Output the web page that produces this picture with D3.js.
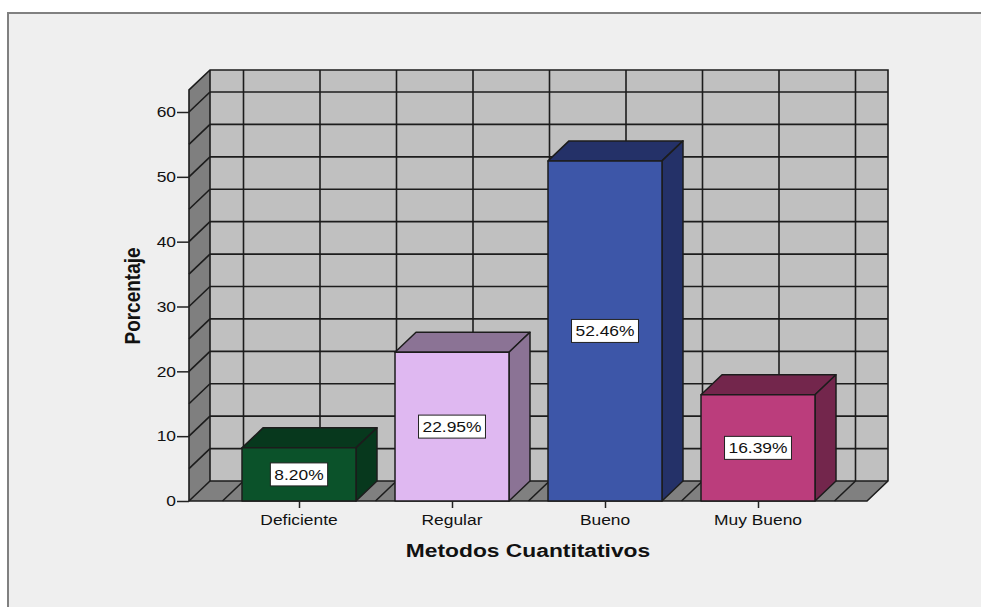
<!DOCTYPE html>
<html>
<head>
<meta charset="utf-8">
<script src="https://cdn.jsdelivr.net/npm/d3@7"></script>
<style>
  body { margin: 0; background: #ffffff; }
  svg { display: block; }
</style>
</head>
<body>
<div id="chart"></div>
<script>
// Datos del grafico
const categories = ["Deficiente", "Regular", "Bueno", "Muy Bueno"];
const values = [8.20, 22.95, 52.46, 16.39];
const valueLabels = ["8.20%", "22.95%", "52.46%", "16.39%"];
const yTicks = [0, 10, 20, 30, 40, 50, 60];
const gridValues = [5, 10, 15, 20, 25, 30, 35, 40, 45, 50, 55, 60];
const frontColors = ["#0b522a", "#dfb8f1", "#3d56a8", "#bb3d7c"];
const darkColors = ["#07381d", "#8b7395", "#243168", "#73264c"];

const width = 981, height = 607;
const dx = 21, dy = -20;          // profundidad 3D
const yMax = 63.4;                // tope de las paredes
const font = "'Liberation Sans', Arial, sans-serif";
const stretch = 1.2;              // el original esta estirado en horizontal

const svg = d3.select("#chart").append("svg")
  .attr("width", width).attr("height", height);

// fondo y marco
svg.append("rect").attr("x", 8).attr("y", 13).attr("width", 1000).attr("height", 620)
  .attr("fill", "#efefef").attr("stroke", "#808080").attr("stroke-width", 2);

const y = d3.scaleLinear().domain([0, 60]).range([501, 112]);
const x = d3.scaleBand().domain(categories).range([222.5, 834.5]);
const barW = x.step() * 0.745;

const x0 = 189, x1 = 867;         // borde frontal del suelo
const y0 = y(0), yT = y(yMax);
const line = "#1c1c1c";

const poly = pts => pts.map(p => p.join(",")).join(" ");

// pared trasera
svg.append("polygon")
  .attr("points", poly([[x0 + dx, yT + dy], [x1 + dx, yT + dy], [x1 + dx, y0 + dy], [x0 + dx, y0 + dy]]))
  .attr("fill", "#c0c0c0");
// pared lateral
svg.append("polygon")
  .attr("points", poly([[x0, yT], [x0 + dx, yT + dy], [x0 + dx, y0 + dy], [x0, y0]]))
  .attr("fill", "#7f7f7f");
// suelo
svg.append("polygon")
  .attr("points", poly([[x0, y0], [x0 + dx, y0 + dy], [x1 + dx, y0 + dy], [x1, y0]]))
  .attr("fill", "#808080");

// posiciones verticales de la rejilla (centros y mitades de categoria)
const vGrid = d3.range(0, 9).map(i => x.range()[0] + i * x.step() / 2);

const grid = svg.append("g").attr("stroke", line).attr("stroke-width", 1.6).attr("fill", "none");
gridValues.forEach(v => {
  grid.append("line").attr("x1", x0 + dx).attr("x2", x1 + dx)
    .attr("y1", y(v) + dy).attr("y2", y(v) + dy);
  grid.append("line").attr("x1", x0).attr("x2", x0 + dx)
    .attr("y1", y(v)).attr("y2", y(v) + dy);
});
vGrid.forEach(gx => {
  grid.append("line").attr("x1", gx + dx).attr("x2", gx + dx)
    .attr("y1", yT + dy).attr("y2", y0 + dy);
  grid.append("line").attr("x1", gx + dx).attr("x2", gx)
    .attr("y1", y0 + dy).attr("y2", y0);
});
// bordes de las paredes
grid.append("polyline")
  .attr("points", poly([[x0, y0], [x0, yT], [x0 + dx, yT + dy], [x1 + dx, yT + dy], [x1 + dx, y0 + dy], [x1, y0], [x0, y0]]));
grid.append("polyline")
  .attr("points", poly([[x0 + dx, y0 + dy], [x0 + dx, yT + dy]]));
grid.append("line").attr("x1", x0).attr("x2", x0 + dx).attr("y1", y0).attr("y2", y0 + dy);
grid.append("line").attr("x1", x0 + dx).attr("x2", x1 + dx).attr("y1", y0 + dy).attr("y2", y0 + dy);

// barras 3D
const bars = svg.append("g").selectAll("g").data(categories).enter().append("g")
  .attr("stroke", line).attr("stroke-width", 1.5).attr("stroke-linejoin", "round");

bars.each(function (c, i) {
  const g = d3.select(this);
  const bx = x(c) + (x.step() - barW) / 2;
  const top = y(values[i]);
  g.append("polygon") // cara superior
    .attr("points", poly([[bx, top], [bx + dx, top + dy], [bx + barW + dx, top + dy], [bx + barW, top]]))
    .attr("fill", darkColors[i]);
  g.append("polygon") // cara lateral
    .attr("points", poly([[bx + barW, top], [bx + barW + dx, top + dy], [bx + barW + dx, y0 + dy], [bx + barW, y0]]))
    .attr("fill", darkColors[i]);
  g.append("rect") // cara frontal
    .attr("x", bx).attr("y", top).attr("width", barW).attr("height", y0 - top)
    .attr("fill", frontColors[i]);
});

// texto estirado horizontalmente
function label(parent, tx, ty, str, opts = {}) {
  const rot = opts.rotate ? ` rotate(${opts.rotate})` : "";
  return parent.append("text")
    .attr("transform", `translate(${tx},${ty}) scale(${stretch},1)${rot}`)
    .attr("text-anchor", opts.anchor || "middle")
    .attr("dy", opts.dy || 0)
    .attr("font-family", font)
    .attr("font-size", opts.size || 14.5)
    .attr("font-weight", opts.weight || "normal")
    .attr("fill", "#111")
    .text(str);
}

// etiquetas de valor
const valG = svg.append("g");
categories.forEach((c, i) => {
  const cx = x(c) + x.step() / 2;
  const cy = (y(values[i]) + y0) / 2;
  const t = label(valG, cx, cy, valueLabels[i], { dy: "0.36em" });
  const w = t.node().getBBox().width * stretch;
  valG.insert("rect", "text")
    .attr("x", cx - w / 2 - 4).attr("y", cy - 11.5)
    .attr("width", w + 8).attr("height", 23)
    .attr("fill", "#fff").attr("stroke", "#222").attr("stroke-width", 1);
});

// eje Y
const yAxis = svg.append("g").attr("transform", `translate(${x0},0)`)
  .call(d3.axisLeft(y).tickValues(yTicks).tickSize(12).tickFormat(""));
yAxis.select(".domain").remove();
yAxis.selectAll("line").attr("stroke", "#222").attr("stroke-width", 1.5);
yTicks.forEach(v => label(svg, 176, y(v), v, { anchor: "end", dy: "0.36em" }));

// eje X
const xAxis = svg.append("g").attr("transform", `translate(0,${y0})`)
  .call(d3.axisBottom(d3.scalePoint().domain(categories).range([x(categories[0]) + x.step() / 2, x(categories[3]) + x.step() / 2])).tickSize(7).tickFormat(""));
xAxis.select(".domain").remove();
xAxis.selectAll("line").attr("stroke", "#222").attr("stroke-width", 1.5);
categories.forEach(c => label(svg, x(c) + x.step() / 2, 524.5, c));

// titulos de ejes
label(svg, 528, 557, "Metodos Cuantitativos", { size: 19, weight: "bold" });
label(svg, 140, 296, "Porcentaje", { size: 19, weight: "bold", rotate: -90 });
</script>
</body>
</html>
